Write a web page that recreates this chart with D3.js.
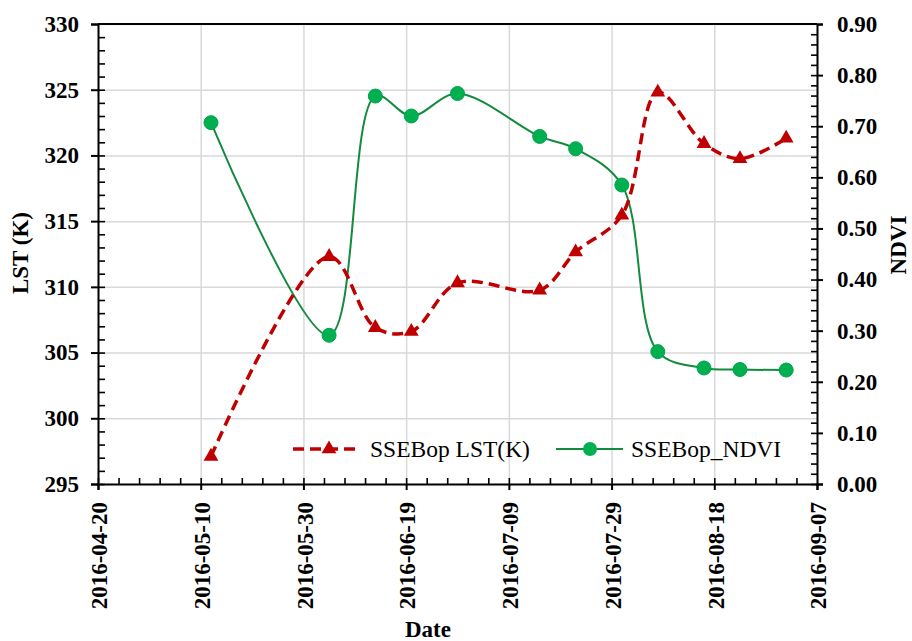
<!DOCTYPE html>
<html>
<head>
<meta charset="utf-8">
<script src="https://cdn.jsdelivr.net/npm/d3@7"></script>
<style>
    body { margin: 0; background: #fff; }
    text { font-family: "Liberation Serif", "Times New Roman", serif; }
    .tick text { font-size: 23px; font-weight: bold; fill: #000; }
    .grid line { stroke: #d9d9d9; stroke-width: 1.5; }
    .grid path { display: none; }
    .axis path, .axis line { stroke: #000; stroke-width: 2; }
    .minor path { display: none; }
    .minor line { stroke: #000; stroke-width: 1.6; }
    .title { font-size: 23px; font-weight: bold; }
    .legend { font-size: 23.5px; }
</style>
</head>
<body>
<script>
var dates = ["2016-05-12", "2016-06-04", "2016-06-13", "2016-06-20", "2016-06-29", "2016-07-15",
             "2016-07-22", "2016-07-31", "2016-08-07", "2016-08-16", "2016-08-23", "2016-09-01"];
var lst = [297.1, 312.3, 306.9, 306.6, 310.3, 309.75, 312.65, 315.45, 324.8, 320.9, 319.75, 321.3];
var ndvi = [0.707, 0.291, 0.759, 0.720, 0.764, 0.680, 0.656, 0.585, 0.259, 0.227, 0.224, 0.223];

var xTicks = ["2016-04-20", "2016-05-10", "2016-05-30", "2016-06-19", "2016-07-09", "2016-07-29", "2016-08-18", "2016-09-07"];
var lstTicks = [295, 300, 305, 310, 315, 320, 325, 330];
var ndviTicks = [0, 0.1, 0.2, 0.3, 0.4, 0.5, 0.6, 0.7, 0.8, 0.9];

var red = "#c00000", green = "#138a3e", greenFill = "#00b050";

// set the dimensions and margins of the graph
var margin = { top: 24, right: 95, bottom: 157, left: 98 },
    width = 912 - margin.left - margin.right,
    height = 641 - margin.top - margin.bottom;

var svg = d3.select("body")
    .append("svg")
    .attr("width", 912)
    .attr("height", 641)
    .append("g")
    .attr("transform", "translate(" + margin.left + "," + margin.top + ")");

var parse = d3.utcParse("%Y-%m-%d");
var data = dates.map(function (d, i) { return { date: parse(d), lst: lst[i], ndvi: ndvi[i] }; });
var tickDates = xTicks.map(parse);

var x = d3.scaleUtc()
    .domain([tickDates[0], tickDates[tickDates.length - 1]])
    .range([0, width]);
var y = d3.scaleLinear().domain([295, 330]).range([height, 0]);
var y2 = d3.scaleLinear().domain([0, 0.9]).range([height, 0]);

// gridlines
svg.append("g")
    .attr("class", "grid")
    .attr("transform", "translate(0," + height + ")")
    .call(d3.axisBottom(x).tickValues(tickDates).tickSize(-height).tickFormat(""));
svg.append("g")
    .attr("class", "grid")
    .call(d3.axisLeft(y).tickValues(lstTicks).tickSize(-width).tickFormat(""));

// minor ticks (inside)
svg.append("g")
    .attr("class", "minor")
    .attr("transform", "translate(0," + height + ")")
    .call(d3.axisBottom(x).tickValues(d3.utcDay.range(tickDates[0], tickDates[tickDates.length - 1], 4)).tickSize(-6).tickFormat(""));
svg.append("g")
    .attr("class", "minor")
    .call(d3.axisLeft(y).tickValues(d3.range(295, 330, 1)).tickSize(-7).tickFormat(""));
svg.append("g")
    .attr("class", "minor")
    .attr("transform", "translate(" + width + ",0)")
    .call(d3.axisRight(y2).tickValues(d3.range(0, 0.9, 0.02)).tickSize(-6).tickFormat(""));

// box
svg.append("line").attr("x1", 0).attr("x2", width).attr("y1", 0).attr("y2", 0)
    .style("stroke", "#000").style("stroke-width", 2);

// X axis
var xAxis = svg.append("g")
    .attr("class", "axis")
    .attr("transform", "translate(0," + height + ")")
    .call(d3.axisBottom(x)
        .tickValues(tickDates)
        .tickSizeOuter(0)
        .tickSize(6)
        .tickFormat(d3.utcFormat("%Y-%m-%d")));
xAxis.selectAll("text")
    .style("text-anchor", "end")
    .attr("transform", "rotate(-90)")
    .attr("x", -18)
    .attr("y", 0)
    .attr("dy", "0.38em");

// left Y axis
svg.append("g")
    .attr("class", "axis")
    .call(d3.axisLeft(y).tickValues(lstTicks).tickSizeOuter(0).tickSize(7).tickPadding(12));

// right Y axis
svg.append("g")
    .attr("class", "axis")
    .attr("transform", "translate(" + width + ",0)")
    .call(d3.axisRight(y2).tickValues(ndviTicks).tickSizeOuter(0).tickSize(6).tickPadding(14)
        .tickFormat(d3.format(".2f")));

// axis titles
svg.append("text")
    .attr("class", "title")
    .attr("transform", "translate(" + (28 - margin.left) + "," + (253 - margin.top) + ") rotate(-90)")
    .attr("text-anchor", "middle")
    .text("LST (K)");
svg.append("text")
    .attr("class", "title")
    .attr("transform", "translate(" + (906 - margin.left) + "," + (245 - margin.top) + ") rotate(-90)")
    .attr("text-anchor", "middle")
    .text("NDVI");
svg.append("text")
    .attr("class", "title")
    .attr("x", 428 - margin.left)
    .attr("y", 637 - margin.top)
    .attr("text-anchor", "middle")
    .text("Date");

// Excel-like smoothing, less overshoot than a uniform spline
var smooth = d3.curveCatmullRom.alpha(0.5);

// NDVI line
svg.append("path")
    .datum(data)
    .attr("fill", "none")
    .attr("stroke", green)
    .attr("stroke-width", 2)
    .attr("d", d3.line()
        .curve(smooth)
        .x(function (d) { return x(d.date); })
        .y(function (d) { return y2(d.ndvi); }));

// LST line
svg.append("path")
    .datum(data)
    .attr("fill", "none")
    .attr("stroke", red)
    .attr("stroke-width", 3.5)
    .attr("stroke-dasharray", "11,6")
    .attr("d", d3.line()
        .curve(smooth)
        .x(function (d) { return x(d.date); })
        .y(function (d) { return y(d.lst); }));

// NDVI points
svg.append("g")
    .selectAll("dot")
    .data(data)
    .enter()
    .append("circle")
    .attr("cx", function (d) { return x(d.date); })
    .attr("cy", function (d) { return y2(d.ndvi); })
    .attr("r", 7)
    .attr("fill", greenFill)
    .attr("stroke", "#00a448")
    .attr("stroke-width", 1);

// LST points
var tri = d3.symbol().type(d3.symbolTriangle).size(95);
svg.append("g")
    .selectAll("tri")
    .data(data)
    .enter()
    .append("path")
    .attr("d", tri)
    .attr("transform", function (d) { return "translate(" + x(d.date) + "," + y(d.lst) + ")"; })
    .attr("fill", red);

// legend
var lg = svg.append("g").attr("transform", "translate(" + (-margin.left) + "," + (-margin.top) + ")");
lg.append("line").attr("x1", 293).attr("x2", 357).attr("y1", 449).attr("y2", 449)
    .attr("stroke", red).attr("stroke-width", 3.5).attr("stroke-dasharray", "11,6");
lg.append("path").attr("d", tri).attr("transform", "translate(329,449)").attr("fill", red);
lg.append("text").attr("class", "legend").attr("x", 370).attr("y", 457).text("SSEBop LST(K)");

lg.append("line").attr("x1", 556).attr("x2", 623).attr("y1", 449).attr("y2", 449)
    .attr("stroke", green).attr("stroke-width", 2);
lg.append("circle").attr("cx", 590).attr("cy", 449).attr("r", 7).attr("fill", greenFill);
lg.append("text").attr("class", "legend").attr("x", 631).attr("y", 457).text("SSEBop_NDVI");
</script>
</body>
</html>
